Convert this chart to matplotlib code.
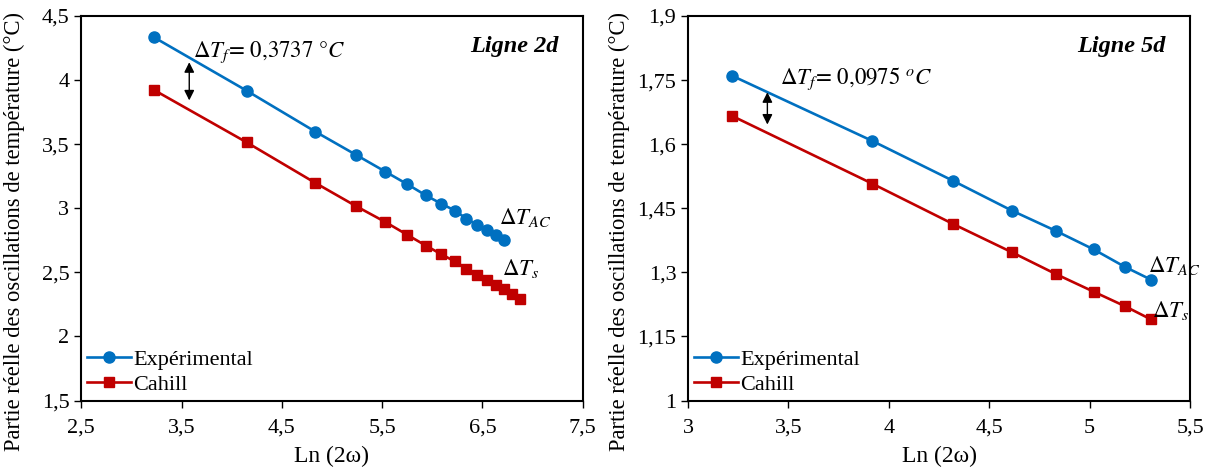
import numpy as np
import matplotlib
matplotlib.use("Agg")
import matplotlib.pyplot as plt

plt.rcParams.update({"font.family": "Liberation Serif", "font.size": 16,
                     "mathtext.fontset": "stix"})

BLUE, RED = "#0070C0", "#C00000"

# Ligne 2d
X2_EXP = [3.225, 4.148, 4.834, 5.242, 5.532, 5.753, 5.936, 6.089, 6.226,
          6.341, 6.448, 6.543, 6.631, 6.714]
Y2_EXP = [4.334, 3.918, 3.598, 3.416, 3.286, 3.187, 3.101, 3.036, 2.982,
          2.919, 2.870, 2.831, 2.792, 2.753]
X2_CAH = [3.225, 4.148, 4.834, 5.242, 5.532, 5.753, 5.936, 6.089, 6.226,
          6.341, 6.448, 6.543, 6.631, 6.714, 6.800, 6.870]
Y2_CAH = [3.923, 3.515, 3.198, 3.016, 2.893, 2.792, 2.709, 2.642, 2.585,
          2.530, 2.480, 2.438, 2.400, 2.368, 2.330, 2.295]

# Ligne 5d
X5 = [3.220, 3.916, 4.321, 4.613, 4.832, 5.019, 5.175, 5.305]
Y5_EXP = [1.760, 1.608, 1.514, 1.4445, 1.397, 1.354, 1.313, 1.283]
Y5_CAH = [1.666, 1.508, 1.413, 1.347, 1.296, 1.255, 1.221, 1.190]

XT2 = [2.5, 3.5, 4.5, 5.5, 6.5, 7.5]
YT2 = [1.5, 2, 2.5, 3, 3.5, 4, 4.5]
XT5 = [3, 3.5, 4, 4.5, 5, 5.5]
YT5 = [1, 1.15, 1.3, 1.45, 1.6, 1.75, 1.9]


def fmt(v):
    return f"{v:g}".replace(".", ",")


fig = plt.figure(figsize=(12.18, 4.72), dpi=100)
ax1 = fig.add_axes([0.0667, 0.1513, 0.4117, 0.8148])
ax2 = fig.add_axes([0.5649, 0.1513, 0.4122, 0.8148])

panels = [
    (ax1, X2_EXP, Y2_EXP, X2_CAH, Y2_CAH, XT2, YT2, "Ligne 2d",
     r"$\Delta T_f\!=\,0{,}3737\ °C$", (3.577, 4.161, 3.820), (3.616, 4.22), -0.112),
    (ax2, X5, Y5_EXP, X5, Y5_CAH, XT5, YT5, "Ligne 5d",
     r"$\Delta T_f\!=\,0{,}0975\ ^{o}C$", (3.395, 1.728, 1.6395), (3.458, 1.754), -0.116),
]

for ax, xe, ye, xc, yc, xt, yt, title, dtf, arr, tpos, ylx in panels:
    ax.plot(xe, ye, "-o", color=BLUE, lw=1.9, ms=8, label="Expérimental")
    ax.plot(xc, yc, "-s", color=RED, lw=1.9, ms=7, label="Cahill")
    ax.set_xlim(xt[0], xt[-1]); ax.set_ylim(yt[0], yt[-1])
    ax.set_xticks(xt); ax.set_xticklabels([fmt(v) for v in xt])
    ax.set_yticks(yt); ax.set_yticklabels([fmt(v) for v in yt])
    ax.tick_params(direction="out", length=5, width=1, labelsize=16)
    ax.tick_params(axis="x", pad=8)
    for s in ax.spines.values():
        s.set_linewidth(1.5)
    ax.set_xlabel("Ln (2ω)", fontsize=17, labelpad=6)
    ax.set_ylabel("Partie réelle des oscillations de température (°C)",
                  fontsize=16.3)
    ax.yaxis.set_label_coords(ylx, 0.44)
    ax.text(0.951, 0.92, title, transform=ax.transAxes, ha="right",
            va="center", fontsize=17.5, fontweight="bold", fontstyle="italic")
    ax.annotate("", xy=(arr[0], arr[1]), xytext=(arr[0], arr[2]),
                arrowprops=dict(arrowstyle="<|-|>", color="black", lw=1,
                                mutation_scale=15))
    ax.text(tpos[0], tpos[1], dtf, fontsize=16.5, ha="left", va="center")
    ax.legend(loc="lower left", frameon=False, fontsize=16, handlelength=2.0,
              handletextpad=0.1, labelspacing=0.2, borderaxespad=0.1,
              borderpad=0.15)

ax1.text(6.67, 2.93, r"$\Delta T_{AC}$", fontsize=16.5, ha="left", va="center")
ax1.text(6.70, 2.53, r"$\Delta T_s$", fontsize=16.5, ha="left", va="center")
ax2.text(5.29, 1.315, r"$\Delta T_{AC}$", fontsize=16.5, ha="left", va="center")
ax2.text(5.31, 1.21, r"$\Delta T_s$", fontsize=16.5, ha="left", va="center")

fig.savefig("out.png", dpi=100)
